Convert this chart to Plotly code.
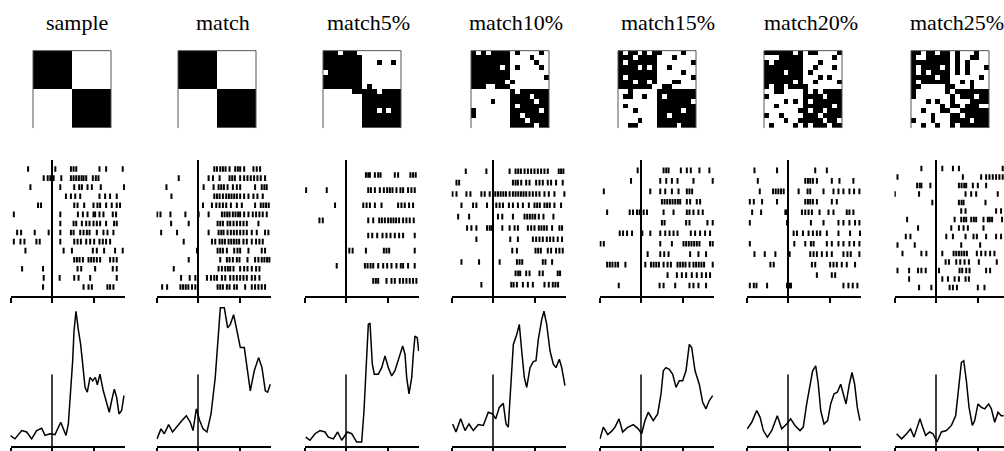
import plotly.graph_objects as go

W, H = 1004, 451

titles = ["sample", "match", "match5%", "match10%", "match15%", "match20%", "match25%"]

# 16x16 stimulus grids: '#' = black pixel, '.' = white pixel
img_sample = ["########........"] * 8 + ["........########"] * 8
img_match = ["########........"] * 8 + ["........########"] * 8
img_m5 = [
    "###.###.........",
    "########........",
    "########...#..#.",
    "########........",
    ".#######........",
    "########........",
    "########........",
    "########.#......",
    "......#####.####",
    "........########",
    "........########",
    "........########",
    "........###.#.##",
    "........########",
    "........########",
    "........########",
]
img_m10 = [
    "#.#.####.#....#.",
    "########....#...",
    "########.....#..",
    "######.#.#....#.",
    "########........",
    "########.......#",
    "#######.#.......",
    "###..###........",
    "........#.######",
    "........####.###",
    "....#...#####.##",
    "........#.######",
    "#.......######.#",
    "#.......##.#####",
    "........###.####",
    "........#####.##",
]
img_m15 = [
    "#.##.#.##....#..",
    "###.####...#....",
    "#.######.......#",
    "####.#.#..#.....",
    "########.....#..",
    "#.######.......#",
    "###.##.#...##...",
    "#######..##.....",
    "..#.....########",
    ".##..#..#.######",
    "........#######.",
    ".#......########",
    "...#....#####.##",
    "........##.#####",
    "....#...########",
    "..##....####.###",
]
img_m20 = [
    "######.#.##....#",
    "...#####......#.",
    "#.######...#....",
    "########..#...#.",
    "####.###.#......",
    "########...#.#..",
    "######.#..#....#",
    "#.##.####.......",
    "..##....#.#.####",
    "#.......####.###",
    "....#.#.#.######",
    "..#.....######.#",
    ".......##.##.###",
    "#..#....###.####",
    "....#..#####.##.",
    ".#....#.#.###.##",
]
img_m25 = [
    "##.##.##.#...#..",
    "#..#####.#..##..",
    "########.#.#....",
    "#.####.#.#.#...#",
    "#.#.####.#.#....",
    "#####.##......#.",
    "#.######..#.#...",
    "##.....##...#...",
    "#......#.#######",
    "#.......#.###.##",
    "...#.#..#...####",
    "......#.##.###..",
    "..#...##..######",
    "....#...##.#####",
    "#...#...####.###",
    "..#..#..#.######",
]

# spike times (ms from match onset), one list per trial, top trial first
spikes_sample = [
    [-288, 40, 228, 260, 292, 572, 652, 852],
    [-100, -52, -20, 20, 112, 228, 260, 292, 324, 356, 380, 412, 492, 528, 560],
    [-260, 100, 268, 328, 360, 428, 480, 588, 868],
    [168, 228, 280, 340, 572, 640, 700, 780],
    [-168, -132, 268, 308, 388, 500, 548, 580, 652, 720, 780, 820],
    [-460, 100, 312, 372, 428, 500, 520, 572, 620, 732, 772],
    [100, 260, 292, 360, 412, 452, 500, 540, 580, 652, 748, 780],
    [-420, -372, -208, -40, 100, 228, 260, 340, 380, 420, 452, 540, 620, 668, 740],
    [-460, -380, -332, -188, -148, 100, 268, 308, 348, 412, 460, 508, 572, 612, 652, 700],
    [-320, 140, 240, 492, 540, 628, 760, 852],
    [268, 300, 332, 372, 440, 472, 504, 540, 580, 700, 740, 780],
    [-360, -108, 308, 352, 520, 732, 780],
    [-100, 92, 268, 320, 460, 780],
    [-108, 380, 440, 480, 668, 700, 740],
]
spikes_match = [
    [196, 228, 268, 300, 332, 380, 448, 480, 508, 556, 668, 708, 748],
    [-232, 128, 180, 260, 380, 412, 444, 508, 556, 596, 636, 676, 716, 756, 808],
    [-380, 68, 188, 248, 280, 312, 356, 420, 468, 508, 688, 768, 800, 828],
    [-320, 196, 228, 260, 300, 340, 372, 404, 436, 468, 508, 556, 608, 668, 716, 780],
    [60, 168, 220, 260, 300, 340, 396, 468, 528, 688, 756, 788, 820, 852],
    [-492, -452, -332, -152, 8, 128, 288, 320, 352, 380, 420, 452, 484, 508, 556, 608, 660, 700, 740, 780, 828],
    [-324, -112, 236, 268, 300, 356, 388, 428, 468, 508, 548, 588, 728],
    [-444, -252, 128, 248, 280, 308, 356, 396, 432, 468, 508, 548, 588, 648, 708, 808, 848],
    [-172, 168, 208, 260, 292, 324, 368, 400, 432, 464, 496, 548, 588, 648, 700, 740, 780],
    [-12, 236, 268, 300, 348, 436, 476, 508, 608, 768, 808],
    [-112, 268, 348, 380, 420, 468, 500, 596, 688, 728, 768, 800, 832, 860],
    [-292, 248, 288, 328, 360, 388, 428, 508, 556, 596, 648, 700, 740],
    [-204, -100, -32, 108, 156, 196, 228, 288, 328, 388, 428, 468, 508, 548, 588, 648, 688, 740],
    [-432, -372, -212, -180, -148, -116, -72, -32, 236, 268, 300, 348, 380, 436, 468, 568, 648, 688, 728, 768, 808],
]
spikes_m5 = [
    [240, 268, 288, 348, 388, 416, 588, 628, 776, 808, 840],
    [-480, -232, 268, 300, 348, 408, 456, 496, 528, 560, 608, 656, 688, 748, 788, 828],
    [-132, 208, 248, 288, 348, 428, 628, 668, 708, 760, 808],
    [-320, -280, 268, 328, 400, 432, 468, 508, 540, 572, 604, 640, 688, 728, 768, 816],
    [268, 316, 376, 440, 488, 536, 588, 640, 688, 828],
    [40, 80, 240, 456, 488, 520, 828],
    [-112, 228, 260, 296, 328, 388, 448, 496, 548, 608, 660, 688, 748, 828],
    [328, 360, 388, 488, 548, 588, 648, 688, 728, 768, 808, 848],
]
spikes_m10 = [
    [-328, -80, 200, 272, 304, 336, 380, 420, 460, 500, 540, 580, 620, 660, 792, 820, 848],
    [-440, -408, 240, 272, 300, 340, 400, 440, 520, 560, 600, 660, 700, 760, 840],
    [-488, -440, -320, -272, -140, -100, -40, 28, 60, 92, 124, 156, 200, 240, 272, 304, 336, 368, 400, 440, 480, 520, 560, 620, 672, 740, 860],
    [-380, -240, -200, -72, 40, 80, 120, 192, 240, 300, 360, 432, 500, 532, 564, 620, 652, 684, 740, 820],
    [-420, -288, 60, 112, 240, 380, 412, 444, 476, 508, 552, 608, 728],
    [-312, -260, -200, -72, -40, -16, 112, 200, 260, 300, 420, 460, 500, 552, 584, 616, 648, 712, 800, 832],
    [-200, 208, 300, 480, 520, 560, 600, 648, 688, 728, 780, 832],
    [232, 288, 512, 544, 576, 660, 700, 760, 800, 840],
    [-380, -168, 80, 288, 320, 352, 600, 632, 712],
    [272, 304, 328, 400, 440, 560, 600, 780, 808],
    [-140, 220, 248, 288, 360, 420, 480, 620, 672, 720, 752, 784],
]
spikes_m15 = [
    [-40, 272, 304, 332, 480, 552, 600, 704, 824],
    [-120, 232, 304, 372, 440, 632, 864],
    [-448, 112, 232, 292, 372, 452, 552, 584, 616],
    [252, 284, 316, 348, 380, 412, 444, 472, 552, 592, 672, 712],
    [-408, -136, -96, -48, -16, 32, 72, 272, 392, 552, 584, 632, 692, 744],
    [252, 284, 544, 584, 800, 864],
    [-256, -216, -168, -108, 16, 112, 232, 292, 344, 392, 440, 600, 652, 712, 772, 832],
    [-488, -448, 232, 372, 512, 544, 576, 608, 640, 672, 704, 832, 864],
    [80, 232, 280, 332, 592, 692, 784],
    [-408, -376, -344, -308, -276, -188, 52, 120, 152, 184, 216, 272, 320, 360, 440, 472, 504, 536, 584, 632, 664, 696, 728, 760, 864],
    [320, 432, 492, 544, 612, 672, 732, 784, 832],
    [-268, 224, 272, 412, 584, 632, 692, 784],
]
spikes_m20 = [
    [-404, -132, 328, 468],
    [-364, 208, 240, 268, 300, 348, 528, 620, 788],
    [-340, -180, -148, -116, -84, -52, 128, 236, 268, 428, 548, 608, 668, 740, 796, 860],
    [-460, -412, -312, -132, 208, 240, 268, 300, 348, 528, 588],
    [-432, -324, -32, -12, 168, 208, 248, 288, 380, 488, 548, 708, 740, 788],
    [-460, -12, 276, 428, 608, 668, 740, 808, 860],
    [68, 108, 180, 248, 300, 348, 388, 468, 608, 748, 868],
    [-460, 76, 208, 276, 308, 468, 528, 608, 668, 740, 796, 860],
    [-404, -280, -152, 20, 268, 308, 348, 408, 468, 528, 668, 716, 756, 860],
    [-212, -172, 288, 328, 508, 548, 588, 648, 708, 808],
    [348, 528, 568],
    [-460, -412, -380, -252, -12, 20, 36, 668, 728, 780, 836],
]
spikes_m25 = [
    [-176, 76, 204, 276, 804],
    [-464, 324, 544, 604, 644, 684, 724, 764, 804],
    [-228, -196, -176, -68, 276, 308, 340, 364, 444, 504, 604],
    [-496, -204, 356, 424, 484, 744],
    [-44, 276, 308, 332, 596],
    [304, 356, 724, 784],
    [-348, 224, 304, 336, 364, 424, 456, 484, 572, 624, 648, 676, 796],
    [-216, 184, 276, 332, 384, 572],
    [-364, -308, 124, 204, 356, 452, 492, 604, 724, 784],
    [-464, -256, 304, 532],
    [-404, -176, -116, 76, 212, 244, 276, 308, 340, 372, 492, 544, 596, 652, 704],
    [116, 156, 244, 292, 344, 396, 516, 732],
    [-464, -324, -216, -176, -124, 36, 284, 316, 364, 404, 604, 652],
    [-324, 76, 144, 224, 276, 356, 396],
    [-204, -56, 164, 204, 252, 504, 584],
]

# smoothed firing rate (spikes/s) against time (ms)
psth_t_sample = [-506, -446, -365, -305, -245, -185, -124, -84, -24, 36, 105, 169, 197, 225, 249, 265, 289, 317, 345, 370, 398, 425, 458, 490, 522, 546, 578, 618, 659, 690, 719, 751, 779, 807, 839, 867]
psth_sample = [3.7, 2.5, 5.4, 4.9, 2.5, 5.4, 6.2, 3.7, 4.3, 4.0, 8.3, 3.7, 7.7, 18.2, 29.8, 40.2, 47.1, 40.7, 35.5, 28.6, 20.5, 18.8, 24.0, 22.8, 24.0, 21.4, 25.1, 19.3, 14.7, 11.8, 15.9, 19.9, 17.0, 11.2, 12.4, 17.6]
psth_t_match = [-494, -446, -406, -354, -306, -253, -193, -141, -93, -60, -20, 20, 60, 108, 157, 208, 241, 269, 317, 357, 389, 429, 470, 510, 558, 598, 630, 678, 730, 771, 811, 839, 871]
psth_match = [2.5, 6.0, 4.3, 7.5, 4.9, 6.6, 8.9, 10.6, 8.3, 5.4, 13.0, 8.9, 6.0, 4.9, 11.2, 24.0, 37.8, 48.3, 48.3, 41.3, 42.5, 45.9, 40.2, 34.4, 34.4, 26.3, 19.3, 26.3, 30.9, 27.4, 19.3, 18.8, 21.6]
psth_t_m5 = [-486, -434, -373, -313, -253, -213, -153, -100, -52, 16, 69, 129, 189, 217, 241, 269, 289, 317, 341, 389, 430, 470, 510, 551, 590, 642, 683, 711, 731, 759, 792, 811, 831, 859, 875]
psth_m5 = [3.1, 2.0, 4.3, 5.4, 4.9, 3.1, 2.5, 4.9, 2.0, 4.9, 4.3, 1.4, 1.4, 12.4, 26.3, 42.5, 43.0, 28.6, 25.1, 25.1, 27.4, 31.5, 27.4, 24.5, 26.3, 30.9, 35.0, 32.0, 24.0, 18.2, 24.0, 32.0, 38.4, 37.8, 33.2]
psth_t_m10 = [-486, -446, -390, -337, -289, -237, -177, -117, -57, -4, 33, 76, 124, 157, 184, 213, 245, 286, 317, 346, 377, 406, 446, 486, 518, 546, 587, 614, 647, 687, 727, 759, 799, 828, 867]
psth_m10 = [7.7, 4.9, 9.5, 5.4, 7.7, 5.4, 7.5, 7.2, 11.8, 11.2, 9.5, 13.5, 14.9, 7.7, 6.6, 19.3, 35.5, 39.0, 42.5, 33.2, 24.0, 20.5, 27.4, 29.5, 29.8, 37.3, 44.2, 47.1, 42.5, 33.2, 28.6, 27.4, 30.3, 27.4, 21.1]
psth_t_m15 = [-494, -454, -401, -353, -313, -265, -221, -165, -93, -33, 8, 48, 88, 148, 201, 241, 269, 301, 341, 382, 422, 461, 502, 542, 582, 611, 651, 702, 743, 783, 823, 864]
psth_m15 = [2.5, 6.6, 4.0, 5.2, 6.6, 9.5, 4.9, 6.4, 7.5, 6.0, 4.3, 8.9, 11.8, 8.9, 11.2, 18.2, 26.3, 27.4, 26.8, 25.1, 20.5, 22.8, 22.8, 26.3, 35.5, 34.4, 26.3, 21.6, 15.3, 13.0, 15.9, 17.6]
psth_t_m20 = [-490, -437, -377, -337, -297, -249, -196, -129, -76, -16, 32, 84, 145, 184, 225, 265, 297, 334, 365, 394, 434, 478, 514, 554, 594, 635, 666, 699, 739, 771, 803, 835, 867]
psth_m20 = [6.0, 8.3, 12.4, 10.1, 5.4, 3.1, 5.4, 10.6, 6.0, 7.7, 9.5, 7.2, 5.4, 6.6, 14.7, 21.6, 26.3, 28.0, 21.6, 12.4, 7.7, 8.9, 14.7, 18.2, 18.8, 21.6, 18.2, 14.7, 21.6, 25.7, 21.6, 13.5, 8.9]
psth_t_m25 = [-475, -414, -354, -306, -265, -213, -193, -161, -124, -76, -36, 12, 65, 125, 186, 237, 273, 306, 334, 366, 398, 438, 466, 506, 547, 587, 635, 667, 707, 747, 787, 815]
psth_m25 = [4.3, 2.5, 4.3, 6.0, 3.1, 7.2, 9.5, 6.6, 3.7, 4.9, 4.3, 1.4, 4.9, 5.4, 7.2, 10.6, 19.3, 29.2, 29.8, 22.8, 13.5, 7.2, 8.9, 14.7, 13.5, 13.0, 14.7, 13.0, 8.3, 11.8, 10.6, 10.6]

images = [img_sample, img_match, img_m5, img_m10, img_m15, img_m20, img_m25]
rasters = [spikes_sample, spikes_match, spikes_m5, spikes_m10, spikes_m15, spikes_m20, spikes_m25]
psth_times = [psth_t_sample, psth_t_match, psth_t_m5, psth_t_m10, psth_t_m15, psth_t_m20, psth_t_m25]
psth_rates = [psth_sample, psth_match, psth_m5, psth_m10, psth_m15, psth_m20, psth_m25]

# panel geometry in pixels
zero_px = [52, 198, 346, 493, 641, 788, 936]      # x of t = 0 in each column
img_left = [33, 178, 323, 471, 618, 764, 911]
title_cx = [77, 223, 368, 516, 668, 811, 957]
IMG_SIZE, IMG_TOP = 78, 51
PX_PER_MS = 0.083
RASTER_TOP, RASTER_BOTTOM = 161, 298
PSTH_TOP, PSTH_BOTTOM = 305, 449
RATE_MAX = 50.0
MARK_LINE_RATE = 25.0


def px(x):
    return x / W


def py(y):
    return 1 - y / H


layout = dict(
    width=W, height=H, margin=dict(l=0, r=0, t=0, b=0),
    paper_bgcolor="white", plot_bgcolor="rgba(0,0,0,0)", showlegend=False,
)
shapes, annotations = [], []
fig = go.Figure()
n_axes = 0


def add_axes(xdom, ydom, xopts, yopts):
    global n_axes
    n_axes += 1
    s = "" if n_axes == 1 else str(n_axes)
    layout["xaxis" + s] = dict(domain=xdom, anchor="y" + s, fixedrange=True, **xopts)
    layout["yaxis" + s] = dict(domain=ydom, anchor="x" + s, fixedrange=True, **yopts)
    return "x" + s, "y" + s


hidden = dict(visible=False, showgrid=False, zeroline=False)

for col in range(7):
    # stimulus image
    left = img_left[col]
    xdom = [px(left), px(left + IMG_SIZE)]
    ydom = [py(IMG_TOP + IMG_SIZE), py(IMG_TOP)]
    xa, ya = add_axes(xdom, ydom, dict(range=[-0.5, 15.5], **hidden),
                      dict(range=[15.5, -0.5], **hidden))
    z = [[1 if ch == "#" else 0 for ch in row] for row in images[col]]
    fig.add_trace(go.Heatmap(z=z, xaxis=xa, yaxis=ya, zmin=0, zmax=1, showscale=False,
                             colorscale=[[0, "white"], [1, "black"]], hoverinfo="skip"))
    shapes.append(dict(type="path", xref="paper", yref="paper",
                       path=f"M {px(left)},{py(IMG_TOP + IMG_SIZE)} L {px(left)},{py(IMG_TOP)} "
                            f"L {px(left + IMG_SIZE)},{py(IMG_TOP)} L {px(left + IMG_SIZE)},{py(IMG_TOP + IMG_SIZE)}",
                       line=dict(color="#555555", width=1)))

    annotations.append(dict(text=titles[col], x=px(title_cx[col]), y=py(23), xref="paper", yref="paper",
                            showarrow=False, xanchor="center", yanchor="middle",
                            font=dict(family="Liberation Serif, Times New Roman, serif", size=22, color="black")))

    # time axes shared settings
    z0 = zero_px[col]
    right_px = min(z0 + 73, W)
    t_max = (right_px - z0) / PX_PER_MS
    t_xdom = [px(z0 - 500 * PX_PER_MS), px(right_px)]
    time_axis = dict(range=[-500, t_max], tickvals=[-500, 0, 500], ticks="outside", ticklen=5,
                     tickwidth=1.5, tickcolor="black", showticklabels=False, showline=True,
                     linecolor="black", linewidth=1.5, showgrid=False, zeroline=False)

    # spike raster
    trials = rasters[col]
    n = len(trials)
    xa, ya = add_axes(t_xdom, [py(RASTER_BOTTOM), py(RASTER_TOP)], time_axis,
                      dict(range=[0, n + 1], **hidden))
    sx, sy = [], []
    for i, trial in enumerate(trials):
        for t in trial:
            sx.append(t)
            sy.append(n - i)
    fig.add_trace(go.Scatter(x=sx, y=sy, xaxis=xa, yaxis=ya, mode="markers", hoverinfo="skip",
                             marker=dict(symbol="line-ns", size=4, color="black",
                                         line=dict(width=2, color="black"))))
    fig.add_trace(go.Scatter(x=[0, 0], y=[0, n + 1], xaxis=xa, yaxis=ya, mode="lines",
                             line=dict(color="black", width=2), hoverinfo="skip"))

    # firing-rate histogram
    xa, ya = add_axes(t_xdom, [py(PSTH_BOTTOM), py(PSTH_TOP)], time_axis,
                      dict(range=[0, RATE_MAX], **hidden))
    fig.add_trace(go.Scatter(x=psth_times[col], y=psth_rates[col], xaxis=xa, yaxis=ya, mode="lines",
                             line=dict(color="black", width=1.5), hoverinfo="skip"))
    fig.add_trace(go.Scatter(x=[0, 0], y=[0, MARK_LINE_RATE], xaxis=xa, yaxis=ya, mode="lines",
                             line=dict(color="black", width=1.5), hoverinfo="skip"))

layout["shapes"] = shapes
layout["annotations"] = annotations
fig.update_layout(**layout)
fig.write_html("out.html")
